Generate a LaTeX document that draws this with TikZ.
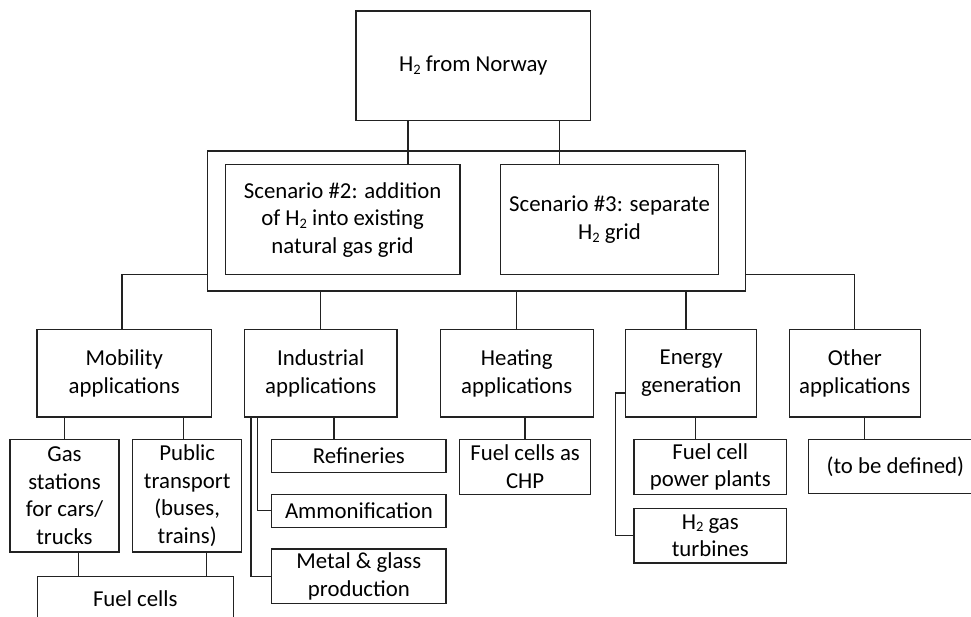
\documentclass[tikz,border=0pt]{standalone}
\usepackage{fontspec}
\setmainfont{Carlito}
\definecolor{linecol}{HTML}{222222}
% H with a lowered subscript 2
\newcommand\Htwo{H\raisebox{-0.25ex}{\fontsize{14.5}{14.5}\selectfont 2}}
\begin{document}
\begin{tikzpicture}[x=1pt,y=-1pt,
  box/.style={draw=linecol, line width=1.3pt, inner sep=0pt, outer sep=0pt,
    align=center, text=black, font=\fontsize{22.8}{27.6}\selectfont},
  link/.style={draw=linecol, line width=1.3pt}]
\clip (0,0) rectangle (971,616);
\fill[white] (0,0) rectangle (971,616);

% source
\node[box, minimum width=234.5pt, minimum height=109.7pt] (top) at (473.2,65.9) {\Htwo{} from Norway};

% scenario frame and scenarios
\node[box, minimum width=538.4pt, minimum height=140pt] (outer) at (476.5,221) {};
\node[box, minimum width=234.7pt, minimum height=110pt] (sc2) at (342.6,219.7)
  {Scenario \#2: addition\\of \Htwo{} into existing\\natural gas grid};
\node[box, minimum width=218.4pt, minimum height=110pt] (sc3) at (609.5,219.7)
  {Scenario \#3: separate\\\Htwo{} grid};

% application groups
\node[box, minimum width=174.7pt, minimum height=87.7pt] (mob) at (124.3,373.2) {Mobility\\applications};
\node[box, minimum width=152.7pt, minimum height=87.7pt] (ind) at (320.7,373.2) {Industrial\\applications};
\node[box, minimum width=152.8pt, minimum height=87.7pt] (heat) at (516.8,373.2) {Heating\\applications};
\node[box, minimum width=131pt, minimum height=87.7pt] (energy) at (691.2,373.2) {Energy\\generation};
\node[box, minimum width=131pt, minimum height=87.7pt] (other) at (854.8,373.2) {Other\\applications};

% mobility
\node[box, minimum width=109pt, minimum height=112.7pt] (gas) at (64.5,495.7) {Gas\\stations\\for cars/\\trucks};
\node[box, minimum width=109pt, minimum height=112.7pt] (pub) at (187.2,495.7) {Public\\transport\\(buses,\\trains)};
\node[box, minimum width=196pt, minimum height=44.7pt] (fuel) at (135.3,598.6) {Fuel cells};

% industry
\node[box, minimum width=174.3pt, minimum height=33pt] (ref) at (358.9,455.8) {Refineries};
\node[box, minimum width=174.3pt, minimum height=33pt] (amm) at (358.9,510.8) {Ammonification};
\node[box, minimum width=174.3pt, minimum height=54.7pt] (metal) at (358.9,576.3) {Metal \& glass\\production};

% heating
\node[box, minimum width=131.4pt, minimum height=55pt] (chp) at (525.1,466.8) {Fuel cells as\\CHP};

% energy
\node[box, minimum width=152.7pt, minimum height=55pt] (fcpp) at (710.3,466.8) {Fuel cell\\power plants};
\node[box, minimum width=152.7pt, minimum height=54.3pt] (turb) at (710.3,535.8) {\Htwo{} gas\\turbines};

% other
\node[box, minimum width=173.2pt, minimum height=54pt] (tbd) at (895.3,466.7) {(to be defined)};

% source to scenarios
\draw[link] (408,0 |- top.south) -- (408,0 |- sc2.north);
\draw[link] (559.3,0 |- top.south) -- (559.3,0 |- sc3.north);

% frame to application groups
\draw[link] (outer.west |- sc2.south) -| (122,0 |- mob.north);
\draw[link] (outer.east |- sc3.south) -| (other.north);
\draw[link] (ind.north |- outer.south) -- (ind.north);
\draw[link] (heat.north |- outer.south) -- (heat.north);
\draw[link] (686,0 |- outer.south) -- (686,0 |- energy.north);

% mobility branch
\draw[link] (gas.north |- mob.south) -- (gas.north);
\draw[link] (183.7,0 |- mob.south) -- (183.7,0 |- pub.north);
\draw[link] (78.3,0 |- gas.south) -- (78.3,0 |- fuel.north);
\draw[link] (206.7,0 |- pub.south) -- (206.7,0 |- fuel.north);

% industry branch
\draw[link] (334,0 |- ind.south) -- (334,0 |- ref.north);
\draw[link] (257.7,0 |- ind.south) |- (amm.west);
\draw[link] (251,0 |- ind.south) |- (metal.west);

% heating branch
\draw[link] (chp.north |- heat.south) -- (chp.north);

% energy branch
\draw[link] (695.7,0 |- energy.south) -- (695.7,0 |- fcpp.north);
\draw[link] (energy.west |- 0,393) -| (615.7,535.8) -- (turb.west);

% other branch
\draw[link] (864.3,0 |- other.south) -- (864.3,0 |- tbd.north);
\end{tikzpicture}
\end{document}
